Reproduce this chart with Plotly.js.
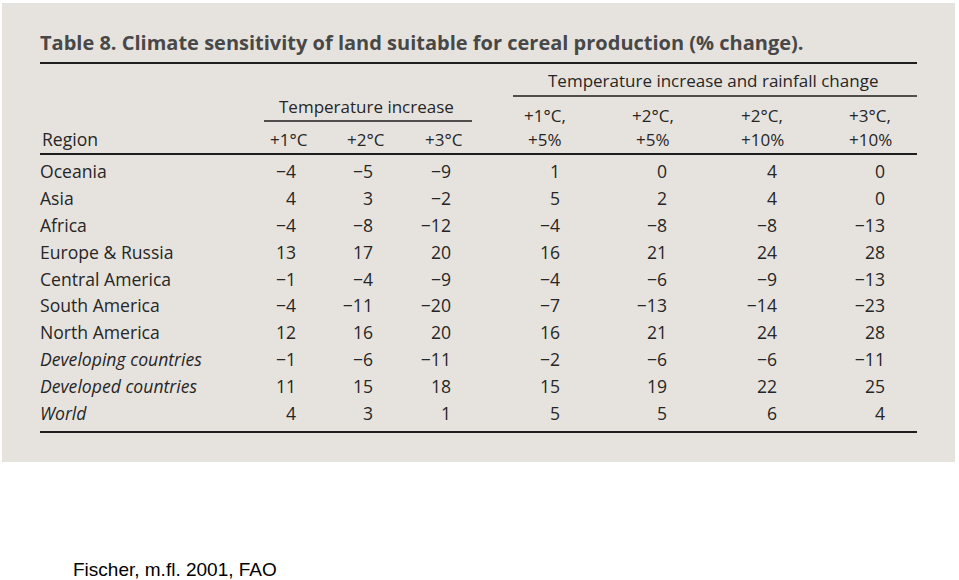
<!DOCTYPE html>
<html>
<head>
<meta charset="utf-8">
<script src="https://cdn.plot.ly/plotly-3.0.1.min.js"></script>
<style>html,body{margin:0;padding:0;background:#fff;}#chart{width:959px;height:580px;}</style>
</head>
<body>
<div id="chart"></div>
<script>
// ---- data ----
const titleText = "Table 8. Climate sensitivity of land suitable for cereal production (% change).";
const sourceText = "Fischer, m.fl. 2001, FAO";
const groupTemp = "Temperature increase";
const groupTempRain = "Temperature increase and rainfall change";
const regionHeader = "Region";
const regions = ["Oceania", "Asia", "Africa", "Europe & Russia", "Central America", "South America",
  "North America", "Developing countries", "Developed countries", "World"];
const italicRegions = ["Developing countries", "Developed countries", "World"];
const tempLabels = ["+1°C", "+2°C", "+3°C"];
const rainLabelsTop = ["+1°C,", "+2°C,", "+2°C,", "+3°C,"];
const rainLabelsBottom = ["+5%", "+5%", "+10%", "+10%"];
const temp1 = [-4, 4, -4, 13, -1, -4, 12, -1, 11, 4];
const temp2 = [-5, 3, -8, 17, -4, -11, 16, -6, 15, 3];
const temp3 = [-9, -2, -12, 20, -9, -20, 20, -11, 18, 1];
const t1r5 = [1, 5, -4, 16, -4, -7, 16, -2, 15, 5];
const t2r5 = [0, 2, -8, 21, -6, -13, 21, -6, 19, 5];
const t2r10 = [4, 4, -8, 24, -9, -14, 24, -6, 22, 6];
const t3r10 = [0, 0, -13, 28, -13, -23, 28, -11, 25, 4];

// ---- layout config ----
const W = 959, H = 580;
const rowTop = 174, rowStep = 26.8;
const colRight = [296, 373, 451, 560, 667, 777, 885];
const tempHeadCenter = [289, 366, 444];
const rainHeadCenter = [545, 653, 762, 870];
const textColor = "#262626";
const FONT = "Open Sans, Noto Sans, sans-serif";
const fs = 17;
const fsRow = 17.6;

const columns = [temp1, temp2, temp3, t1r5, t2r5, t2r10, t3r10];
const rows = regions.map((_, i) => i);
const fmt = v => (v < 0 ? "\u2212" + Math.abs(v) : String(v));

const traces = [];
traces.push({
  type: "scatter", mode: "text", x: regions.map(() => 40), y: rows,
  text: regions.map(r => italicRegions.includes(r) ? "<i>" + r + "</i>" : r),
  textposition: "middle right", textfont: {family: FONT, size: fsRow, color: textColor},
  hoverinfo: "skip", showlegend: false, cliponaxis: false
});
columns.forEach((col, j) => {
  traces.push({
    type: "scatter", mode: "text", x: col.map(() => colRight[j]), y: rows,
    text: col.map(fmt), textposition: "middle left",
    textfont: {family: FONT, size: fsRow, color: textColor},
    hoverinfo: "skip", showlegend: false, cliponaxis: false
  });
});

const py = px => 1 - px / H;
const ann = [];
function addText(text, x, ypx, anchor, size, extra) {
  ann.push(Object.assign({text: text, xref: "x", yref: "paper", x: x, y: py(ypx),
    xanchor: anchor, yanchor: "middle", showarrow: false,
    font: {family: FONT, size: size, color: textColor}}, extra || {}));
}
addText("<b>" + titleText + "</b>", 38, 43, "left", 20, {font: {family: FONT, size: 20, color: "#484848"}});
addText(groupTempRain, 713, 80, "center", fs);
addText(groupTemp, 366, 106, "center", fs);
addText(regionHeader, 40, 139, "left", fsRow);
tempLabels.forEach((t, i) => addText(t, tempHeadCenter[i], 139, "center", fs));
rainLabelsTop.forEach((t, i) => addText(t, rainHeadCenter[i], 116, "center", fs));
rainLabelsBottom.forEach((t, i) => addText(t, rainHeadCenter[i], 139, "center", fs));
addText(sourceText, 71, 569, "left", 19, {font: {family: "Liberation Sans, Arial, sans-serif", size: 19, color: "#000"}});

const line = (x0, x1, ypx, w) => ({type: "line", xref: "x", yref: "paper", x0: x0, x1: x1,
  y0: py(ypx), y1: py(ypx), line: {color: "#1e1e1e", width: w}, layer: "above"});
const shapes = [
  {type: "rect", xref: "paper", yref: "paper", x0: 2 / W, x1: 955 / W, y0: py(462), y1: py(3),
    fillcolor: "#e6e3de", line: {width: 0}, layer: "below"},
  line(40, 917, 63, 2),
  line(513, 917, 96, 1.6),
  line(264, 472, 121, 1.6),
  line(40, 917, 154, 2),
  line(40, 917, 432, 2)
];

const yTop = -rowTop / rowStep, yBot = (H - rowTop) / rowStep;
const layout = {
  width: W, height: H, margin: {l: 0, r: 0, t: 0, b: 0},
  paper_bgcolor: "#ffffff", plot_bgcolor: "rgba(0,0,0,0)",
  xaxis: {range: [0, W], visible: false, fixedrange: true},
  yaxis: {range: [yBot, yTop], visible: false, fixedrange: true},
  shapes: shapes, annotations: ann, showlegend: false
};
Plotly.newPlot("chart", traces, layout, {displayModeBar: false, staticPlot: true});
</script>
</body>
</html>
